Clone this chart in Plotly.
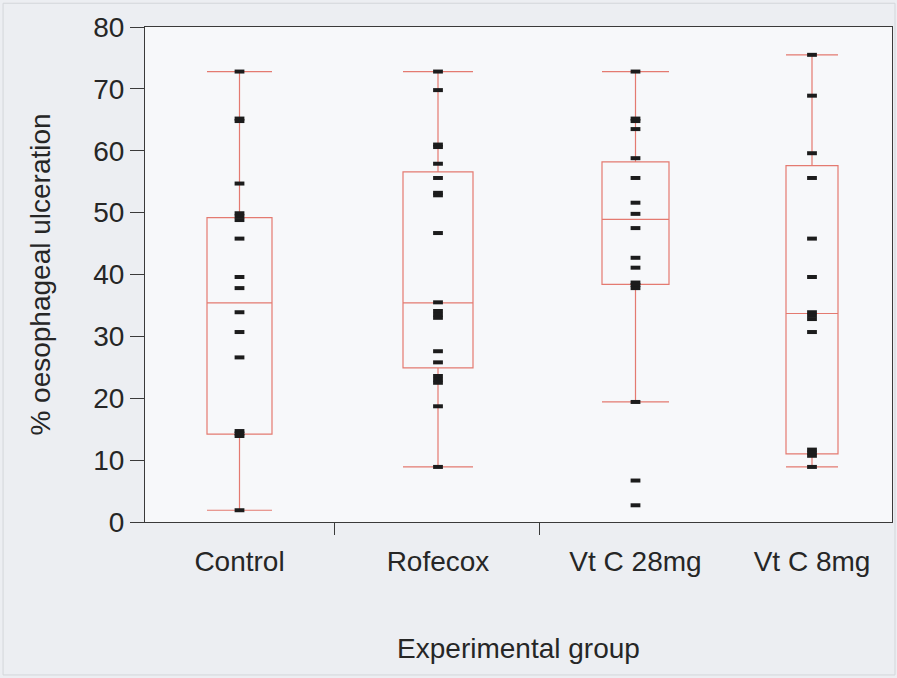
import plotly.graph_objects as go

# Experimental groups and per-animal % oesophageal ulceration
groups = ["Control", "Rofecox", "Vt C 28mg", "Vt C 8mg"]

control = [72.8, 65.2, 64.8, 54.7, 49.9, 49.4, 48.8, 45.8, 39.6, 37.8,
           33.9, 30.7, 26.6, 14.7, 14.3, 13.9, 1.9]
rofecox = [72.8, 69.8, 61.0, 60.6, 57.9, 55.6, 53.2, 52.8, 46.7, 35.5,
           34.1, 33.5, 33.0, 27.6, 25.8, 23.6, 23.0, 22.5, 18.7, 8.9]
vtc_28 = [72.8, 65.2, 64.8, 63.5, 58.8, 55.6, 51.6, 49.8, 47.5, 42.7,
          41.1, 38.7, 38.3, 37.8, 19.4, 6.7, 2.7]
vtc_8 = [75.5, 68.9, 59.6, 55.6, 45.8, 39.6, 33.9, 33.4, 32.8, 30.7,
         11.7, 11.2, 10.7, 8.9]
points = [control, rofecox, vtc_28, vtc_8]

# Box summary statistics (whisker ends, quartiles, median)
lower = [1.9, 8.9, 19.4, 8.9]
q1 = [14.2, 24.9, 38.4, 11.0]
median = [35.4, 35.4, 48.9, 33.7]
q3 = [49.2, 56.6, 58.2, 57.6]
upper = [72.8, 72.8, 72.8, 75.5]

# Horizontal layout of the group slots on the x axis
slot_centers = [0.945, 2.93, 4.905, 6.67]
slot_dividers = [1.89, 3.94]
box_widths = [0.65, 0.70, 0.67, 0.52]
x_range = [0, 7.47]

BOX_COLOR = "#e47a70"
FONT = "Liberation Sans, Arial, sans-serif"
FS = 28

fig = go.Figure()

for i, name in enumerate(groups):
    fig.add_trace(go.Box(
        x=[slot_centers[i]],
        q1=[q1[i]], median=[median[i]], q3=[q3[i]],
        lowerfence=[lower[i]], upperfence=[upper[i]],
        width=box_widths[i],
        whiskerwidth=1,
        boxpoints=False,
        line=dict(color=BOX_COLOR, width=1.2),
        fillcolor="rgba(0,0,0,0)",
        name=name,
        showlegend=False,
        hoverinfo="skip",
    ))

for i, name in enumerate(groups):
    fig.add_trace(go.Scatter(
        x=[slot_centers[i]] * len(points[i]),
        y=points[i],
        mode="markers",
        marker=dict(symbol="line-ew", size=7,
                    line=dict(color="#1c1c1c", width=4)),
        name=name,
        showlegend=False,
    ))

# invisible trace on the second x axis so its divider ticks are drawn
fig.add_trace(go.Scatter(x=x_range, y=[None, None], xaxis="x2",
                         showlegend=False, hoverinfo="skip"))

fig.update_layout(
    width=897, height=678,
    margin=dict(l=145, r=5, t=27, b=156),
    paper_bgcolor="#eceef2",
    plot_bgcolor="#f7f8fa",
    font=dict(family=FONT, size=FS, color="#262626"),
    xaxis=dict(
        range=x_range,
        tickmode="array",
        tickvals=slot_centers,
        ticktext=groups,
        ticks="",
        ticklabelstandoff=14,
        showgrid=False,
        zeroline=False,
        showline=True,
        mirror=True,
        linecolor="#3a3a3a",
        linewidth=1,
        tickfont=dict(size=FS),
        title=dict(text="Experimental group", font=dict(size=FS), standoff=62),
    ),
    xaxis2=dict(
        overlaying="x",
        range=x_range,
        tickmode="array",
        tickvals=slot_dividers,
        ticks="outside",
        ticklen=12,
        tickcolor="#3a3a3a",
        showticklabels=False,
        showgrid=False,
        zeroline=False,
        showline=False,
    ),
    yaxis=dict(
        range=[0, 80],
        tickmode="array",
        tickvals=[0, 10, 20, 30, 40, 50, 60, 70, 80],
        ticks="outside",
        ticklen=14,
        tickcolor="#3a3a3a",
        showgrid=False,
        zeroline=False,
        showline=True,
        mirror=True,
        linecolor="#3a3a3a",
        linewidth=1,
        tickfont=dict(size=FS),
        title=dict(text="% oesophageal ulceration", font=dict(size=FS), standoff=34),
    ),
    shapes=[dict(type="rect", xref="paper", yref="paper",
                 x0=-0.19, x1=1.004, y0=-0.309, y1=1.048,
                 line=dict(color="#d3d6da", width=1), layer="below")],
)

fig.write_html("out.html")
